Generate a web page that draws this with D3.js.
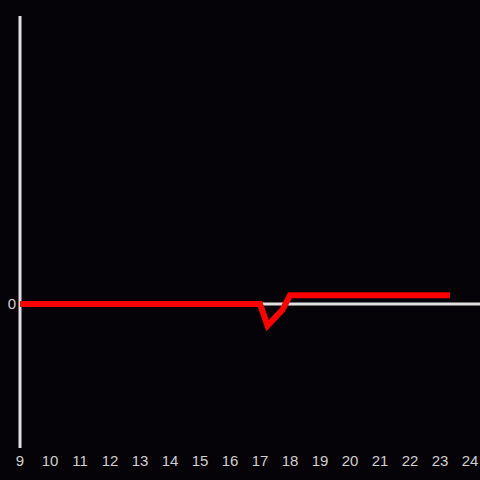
<!DOCTYPE html>
<html>
<head>
<meta charset="utf-8">
<script src="https://cdn.jsdelivr.net/npm/d3@7"></script>
<style>
  html, body { margin: 0; padding: 0; background: #050307; }
</style>
</head>
<body>
<svg id="chart" width="480" height="480"></svg>
<script>
// hour of day and value
const hours = [9, 17, 17.25, 17.75, 18, 23.33];
const values = [0, 0, -0.15, -0.04, 0.06, 0.06];
const xTicks = [9, 10, 11, 12, 13, 14, 15, 16, 17, 18, 19, 20, 21, 22, 23, 24];
const yTicks = [0];

function drawChart() {
    const svg = d3.select("#chart");
    const width = 480, height = 480;

    svg.append("rect")
        .attr("width", width)
        .attr("height", height)
        .attr("fill", "#050307");

    const xScale = d3.scaleLinear()
        .domain([9, 24])
        .range([20, 470]);

    const yScale = d3.scaleLinear()
        .domain([-1, 2])
        .range([448, 16]);

    // y axis line
    svg.append("line")
        .attr("x1", xScale(9)).attr("x2", xScale(9))
        .attr("y1", yScale(2)).attr("y2", yScale(-1))
        .attr("stroke", "#e0e0e0")
        .attr("stroke-width", 3);

    // zero line
    svg.append("line")
        .attr("x1", xScale(9)).attr("x2", width)
        .attr("y1", yScale(0)).attr("y2", yScale(0))
        .attr("stroke", "#e0e0e0")
        .attr("stroke-width", 3);

    // x tick labels
    svg.append("g")
        .selectAll("text")
        .data(xTicks)
        .join("text")
        .attr("x", d => xScale(d))
        .attr("y", 466)
        .attr("text-anchor", "middle")
        .attr("fill", "#d0d0d0")
        .style("font-family", "Liberation Sans, Arial, sans-serif")
        .style("font-size", "15px")
        .text(d => d);

    // y tick labels
    svg.append("g")
        .selectAll("text")
        .data(yTicks)
        .join("text")
        .attr("x", 16)
        .attr("y", d => yScale(d))
        .attr("dy", "0.35em")
        .attr("text-anchor", "end")
        .attr("fill", "#d0d0d0")
        .style("font-family", "Liberation Sans, Arial, sans-serif")
        .style("font-size", "15px")
        .text(d => d);

    const line = d3.line()
        .x((d, i) => xScale(hours[i]))
        .y(d => yScale(d));

    svg.append("path")
        .datum(values)
        .attr("fill", "none")
        .attr("stroke", "#ff0000")
        .attr("stroke-width", 6)
        .attr("d", line);
}

drawChart();
</script>
</body>
</html>
